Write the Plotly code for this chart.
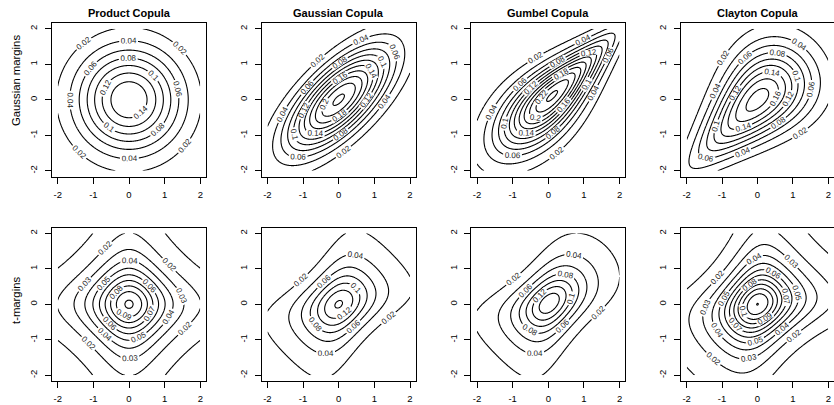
import numpy as np
import plotly.graph_objects as go
from statistics import NormalDist

# ---- chart content -------------------------------------------------------
col_titles = ["Product Copula", "Gaussian Copula", "Gumbel Copula", "Clayton Copula"]
row_titles = ["Gaussian margins", "t-margins"]
copula_types = ["product", "gaussian", "gumbel", "clayton"]
copula_params = [None, 0.7, 2.0, 1.0]       # rho for Gaussian, theta for Gumbel / Clayton
margin_types = ["normal", "t"]              # t margins with 1 degree of freedom
t_df = 1
level_steps = [[0.02, 0.02, 0.02, 0.02],    # contour spacing per panel (row 1)
               [0.01, 0.02, 0.02, 0.01]]    # row 2
tick_vals = [-2, -1, 0, 1, 2]
tick_text = ["-2", "-1", "0", "1", "2"]
grid_lim = [-2.0, 2.0]
n_grid = 241

# ---- model -----------------------------------------------------------------
ND = NormalDist()
xs = np.linspace(grid_lim[0], grid_lim[1], n_grid)


def margin(kind):
    if kind == "normal":
        f = np.array([ND.pdf(v) for v in xs])
        F = np.array([ND.cdf(v) for v in xs])
    else:  # Student t, df = 1
        f = 1.0 / (np.pi * (1 + xs ** 2))
        F = 0.5 + np.arctan(xs) / np.pi
    return f, F


def copula_density(kind, p, u, v):
    if kind == "product":
        return np.ones(np.broadcast(u, v).shape)
    if kind == "gaussian":
        a = np.array([ND.inv_cdf(t) for t in u.ravel()]).reshape(u.shape)
        b = np.array([ND.inv_cdf(t) for t in v.ravel()]).reshape(v.shape)
        r = p
        return np.exp(-(r * r * (a * a + b * b) - 2 * r * a * b) / (2 * (1 - r * r))) / np.sqrt(1 - r * r)
    if kind == "gumbel":
        th = p
        uu, vv = -np.log(u), -np.log(v)
        w = uu ** th + vv ** th
        C = np.exp(-w ** (1 / th))
        return C * (uu * vv) ** (th - 1) / (u * v) * (w ** (2 / th - 2) + (th - 1) * w ** (1 / th - 2))
    if kind == "clayton":
        th = p
        return (1 + th) * (u * v) ** (-th - 1) * (u ** -th + v ** -th - 1) ** (-1 / th - 2)


# ---- layout geometry (pixels) ----------------------------------------------
W, H = 834, 405
col_left = [52, 261.7, 471.3, 681]
panel_w = 154
row_top = [23, 227.5]
panel_h = 153.5
pad = 0.16  # R's 4% axis extension

fig = go.Figure()
font_family = "Liberation Sans, Arial, Helvetica, sans-serif"

k = 0
for ri, mk in enumerate(margin_types):
    f, F = margin(mk)
    U = np.broadcast_to(F[None, :], (n_grid, n_grid))
    V = np.broadcast_to(F[:, None], (n_grid, n_grid))
    fx = f[None, :]
    fy = f[:, None]
    for ci, ck in enumerate(copula_types):
        k += 1
        z = copula_density(ck, copula_params[ci], U, V) * fx * fy
        step = level_steps[ri][ci]
        xa = "x" if k == 1 else f"x{k}"
        ya = "y" if k == 1 else f"y{k}"
        fig.add_trace(go.Contour(
            x=xs, y=xs, z=z, xaxis=xa, yaxis=ya,
            contours=dict(start=step, end=0.5, size=step, coloring="lines",
                          showlabels=True,
                          labelfont=dict(size=8, color="#222222", family=font_family),
                          labelformat=".2~f"),
            colorscale=[[0, "black"], [1, "black"]],
            line=dict(width=1.1, color="black"),
            showscale=False, hoverinfo="skip",
        ))
        x0 = col_left[ci] / W
        x1 = min(1.0, (col_left[ci] + panel_w) / W)
        y1 = 1 - row_top[ri] / H
        y0 = 1 - (row_top[ri] + panel_h) / H
        axstyle = dict(showgrid=False, zeroline=False, showline=True, mirror=True,
                       linecolor="black", linewidth=1, ticks="outside", ticklen=6,
                       tickcolor="black", tickwidth=1,
                       tickvals=tick_vals, ticktext=tick_text,
                       tickfont=dict(size=9.5, family=font_family, color="black"),
                       range=[grid_lim[0] - pad, grid_lim[1] + pad], fixedrange=True)
        xkey = "xaxis" if k == 1 else f"xaxis{k}"
        ykey = "yaxis" if k == 1 else f"yaxis{k}"
        fig.update_layout(**{
            xkey: dict(domain=[x0, x1], anchor=ya, ticklabelstandoff=3, **axstyle),
            ykey: dict(domain=[y0, y1], anchor=xa, tickangle=-90, ticklabelstandoff=4, **axstyle),
        })

annotations = []
for ci, t in enumerate(col_titles):
    annotations.append(dict(text=f"<b>{t}</b>", xref="paper", yref="paper",
                            x=(col_left[ci] + panel_w / 2) / W, y=1 - 12.5 / H,
                            xanchor="center", yanchor="middle", showarrow=False,
                            font=dict(size=11, family=font_family, color="black")))
row_label_y = [81, 300]
for ri, t in enumerate(row_titles):
    annotations.append(dict(text=t, xref="paper", yref="paper",
                            x=16 / W, y=1 - row_label_y[ri] / H,
                            xanchor="center", yanchor="middle", textangle=-90,
                            showarrow=False,
                            font=dict(size=11.3, family=font_family, color="black")))

fig.update_layout(width=W, height=H, margin=dict(l=0, r=0, t=0, b=0),
                  paper_bgcolor="white", plot_bgcolor="white",
                  showlegend=False, annotations=annotations)

fig.write_html("out.html", config={"displayModeBar": False, "staticPlot": True},
               post_script="document.body.style.margin='0';document.body.style.overflow='hidden';")
